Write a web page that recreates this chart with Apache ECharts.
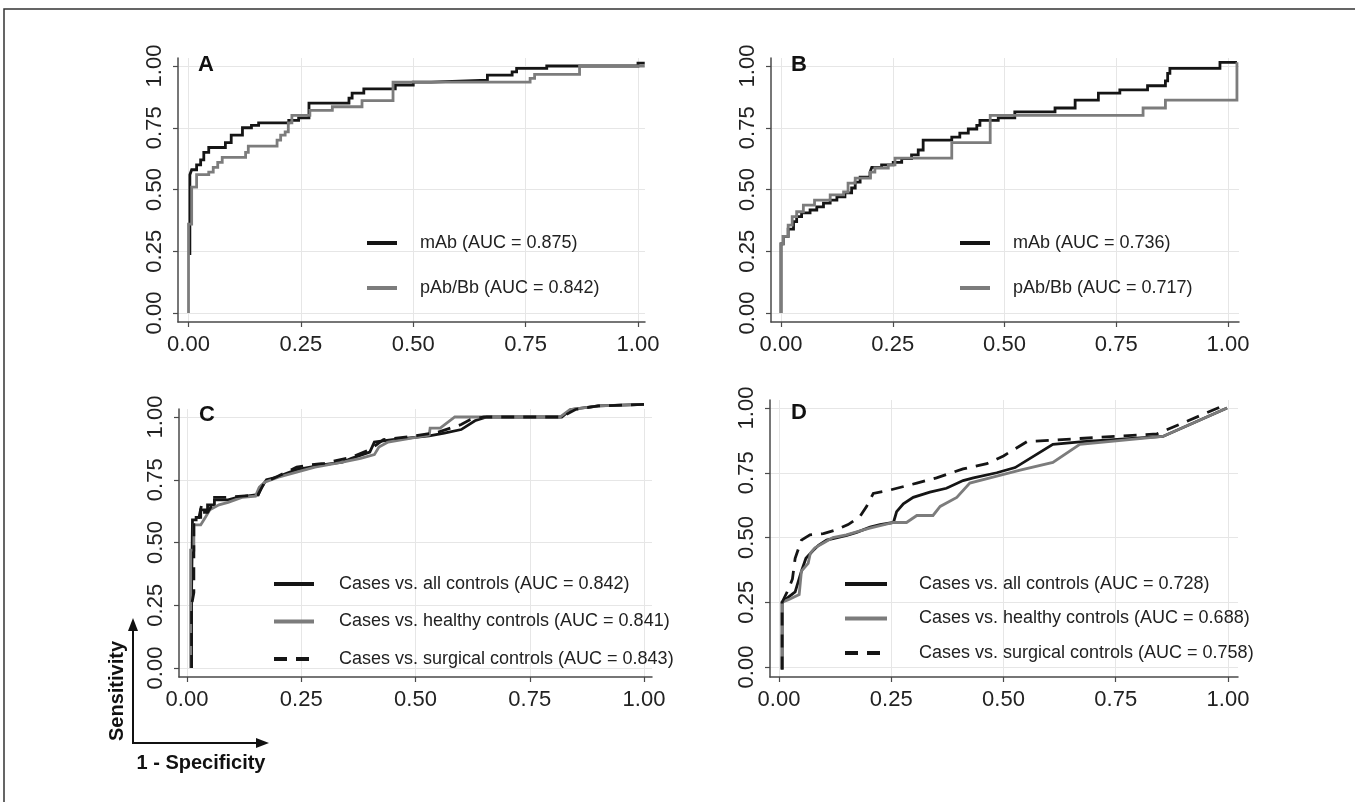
<!DOCTYPE html>
<html><head><meta charset="utf-8">
<script src="https://cdn.jsdelivr.net/npm/echarts@6/dist/echarts.min.js"></script>
<style>html,body{margin:0;padding:0;background:#fff}#c{width:1355px;height:802px}</style>
</head><body><div id="c"></div>
<script>
// ---------- data ----------
const tickValues = [0, 0.25, 0.5, 0.75, 1];
const tickLabels = ['0.00', '0.25', '0.50', '0.75', '1.00'];
const panelLetters = ['A', 'B', 'C', 'D'];

const namesA = ['mAb (AUC = 0.875)', 'pAb/Bb (AUC = 0.842)'];
const namesB = ['mAb (AUC = 0.736)', 'pAb/Bb (AUC = 0.717)'];
const namesC = ['Cases vs. all controls (AUC = 0.842)', 'Cases vs. healthy controls (AUC = 0.841)', 'Cases vs. surgical controls (AUC = 0.843)'];
const namesD = ['Cases vs. all controls (AUC = 0.728)', 'Cases vs. healthy controls (AUC = 0.688)', 'Cases vs. surgical controls (AUC = 0.758)'];

// Panel A (1-specificity, sensitivity)
const A_mAb = [[0.003,0.235],[0.003,0.56],[0.007,0.56],[0.007,0.58],[0.018,0.58],[0.018,0.6],[0.027,0.6],[0.027,0.62],[0.034,0.62],[0.034,0.65],[0.045,0.65],[0.045,0.67],[0.082,0.67],[0.082,0.69],[0.095,0.69],[0.095,0.72],[0.12,0.72],[0.12,0.75],[0.14,0.75],[0.14,0.76],[0.156,0.76],[0.156,0.77],[0.223,0.77],[0.223,0.78],[0.245,0.78],[0.245,0.79],[0.268,0.79],[0.268,0.85],[0.357,0.85],[0.357,0.87],[0.364,0.87],[0.364,0.89],[0.39,0.89],[0.39,0.907],[0.46,0.907],[0.46,0.923],[0.5,0.923],[0.5,0.935],[0.54,0.935],[0.54,0.943],[0.665,0.943],[0.665,0.963],[0.72,0.963],[0.72,0.976],[0.73,0.976],[0.73,0.99],[0.797,0.99],[0.797,1.0],[1.0,1.0],[1.0,1.012],[1.015,1.012]];
const A_pAb = [[0,0],[0,0.36],[0.007,0.36],[0.007,0.51],[0.018,0.51],[0.018,0.56],[0.045,0.56],[0.045,0.57],[0.055,0.57],[0.055,0.59],[0.065,0.59],[0.065,0.61],[0.075,0.61],[0.075,0.63],[0.127,0.63],[0.127,0.65],[0.133,0.65],[0.133,0.676],[0.197,0.676],[0.197,0.7],[0.205,0.7],[0.205,0.72],[0.215,0.72],[0.215,0.733],[0.222,0.733],[0.222,0.77],[0.23,0.77],[0.23,0.8],[0.27,0.8],[0.27,0.82],[0.32,0.82],[0.32,0.835],[0.386,0.835],[0.386,0.86],[0.455,0.86],[0.455,0.935],[0.76,0.935],[0.76,0.95],[0.77,0.95],[0.77,0.966],[0.87,0.966],[0.87,1.0],[1.015,1.0]];

// Panel B
const B_mAb = [[0,0],[0,0.28],[0.005,0.28],[0.005,0.31],[0.016,0.31],[0.016,0.34],[0.028,0.34],[0.028,0.37],[0.035,0.37],[0.035,0.39],[0.046,0.39],[0.046,0.405],[0.065,0.405],[0.065,0.417],[0.08,0.417],[0.08,0.43],[0.095,0.43],[0.095,0.445],[0.11,0.445],[0.11,0.457],[0.125,0.457],[0.125,0.47],[0.143,0.47],[0.143,0.486],[0.158,0.486],[0.158,0.506],[0.166,0.506],[0.166,0.53],[0.177,0.53],[0.177,0.55],[0.199,0.55],[0.199,0.57],[0.203,0.57],[0.203,0.59],[0.225,0.59],[0.225,0.6],[0.251,0.6],[0.251,0.61],[0.27,0.61],[0.27,0.625],[0.292,0.625],[0.292,0.64],[0.307,0.64],[0.307,0.66],[0.318,0.66],[0.318,0.7],[0.382,0.7],[0.382,0.712],[0.4,0.712],[0.4,0.728],[0.419,0.728],[0.419,0.745],[0.438,0.745],[0.438,0.76],[0.445,0.76],[0.445,0.78],[0.486,0.78],[0.486,0.79],[0.523,0.79],[0.523,0.814],[0.613,0.814],[0.613,0.83],[0.658,0.83],[0.658,0.862],[0.71,0.862],[0.71,0.89],[0.758,0.89],[0.758,0.903],[0.82,0.903],[0.82,0.92],[0.86,0.92],[0.86,0.94],[0.865,0.94],[0.865,0.97],[0.87,0.97],[0.87,0.99],[0.982,0.99],[0.982,1.015],[1.02,1.015]];
const B_pAb = [[0,0],[0,0.28],[0.005,0.28],[0.005,0.31],[0.016,0.31],[0.016,0.356],[0.025,0.356],[0.025,0.39],[0.035,0.39],[0.035,0.41],[0.05,0.41],[0.05,0.437],[0.075,0.437],[0.075,0.457],[0.11,0.457],[0.11,0.478],[0.14,0.478],[0.14,0.49],[0.15,0.49],[0.15,0.526],[0.166,0.526],[0.166,0.546],[0.2,0.546],[0.2,0.57],[0.21,0.57],[0.21,0.587],[0.24,0.587],[0.24,0.6],[0.255,0.6],[0.255,0.627],[0.382,0.627],[0.382,0.69],[0.468,0.69],[0.468,0.8],[0.81,0.8],[0.81,0.83],[0.86,0.83],[0.86,0.862],[1.02,0.862],[1.02,1.015]];

// Panel C
const C_all = [[0.01,0],[0.01,0.3],[0.012,0.3],[0.012,0.59],[0.02,0.59],[0.02,0.6],[0.03,0.6],[0.03,0.63],[0.045,0.63],[0.045,0.65],[0.06,0.65],[0.06,0.67],[0.09,0.67],[0.11,0.68],[0.15,0.69],[0.156,0.69],[0.163,0.72],[0.174,0.75],[0.196,0.76],[0.218,0.776],[0.24,0.79],[0.3,0.81],[0.34,0.82],[0.36,0.835],[0.4,0.86],[0.41,0.9],[0.45,0.91],[0.53,0.925],[0.563,0.936],[0.6,0.95],[0.63,0.985],[0.656,1.0],[0.82,1.0],[0.84,1.03],[0.9,1.044],[1.0,1.05]];
const C_healthy = [[0.008,0],[0.008,0.47],[0.015,0.47],[0.015,0.57],[0.03,0.57],[0.04,0.6],[0.05,0.63],[0.07,0.65],[0.09,0.66],[0.12,0.68],[0.15,0.685],[0.158,0.72],[0.17,0.74],[0.2,0.76],[0.24,0.78],[0.28,0.8],[0.34,0.82],[0.38,0.835],[0.41,0.85],[0.42,0.88],[0.44,0.9],[0.53,0.928],[0.532,0.956],[0.554,0.956],[0.586,1.0],[0.816,1.0],[0.838,1.03],[0.904,1.044],[1.0,1.05]];
const C_surgical = [[0.01,0],[0.01,0.25],[0.015,0.3],[0.015,0.59],[0.025,0.59],[0.032,0.65],[0.035,0.62],[0.045,0.62],[0.052,0.64],[0.054,0.68],[0.09,0.68],[0.12,0.685],[0.155,0.69],[0.17,0.74],[0.2,0.765],[0.24,0.8],[0.27,0.81],[0.3,0.815],[0.36,0.84],[0.4,0.87],[0.43,0.91],[0.5,0.925],[0.55,0.94],[0.6,0.97],[0.62,0.99],[0.65,1.0],[0.82,1.0],[0.85,1.03],[0.9,1.044],[1.0,1.05]];

// Panel D
const D_all = [[0.007,-0.01],[0.007,0.25],[0.021,0.27],[0.036,0.29],[0.05,0.37],[0.06,0.42],[0.076,0.45],[0.088,0.47],[0.106,0.49],[0.151,0.508],[0.173,0.52],[0.203,0.54],[0.225,0.55],[0.255,0.558],[0.262,0.6],[0.277,0.63],[0.299,0.655],[0.336,0.675],[0.373,0.69],[0.41,0.72],[0.433,0.73],[0.485,0.75],[0.526,0.77],[0.61,0.86],[0.677,0.87],[0.855,0.89],[0.998,1.0]];
const D_healthy = [[0.007,-0.01],[0.007,0.25],[0.021,0.26],[0.045,0.28],[0.05,0.37],[0.065,0.4],[0.07,0.44],[0.08,0.46],[0.1,0.48],[0.12,0.5],[0.15,0.51],[0.2,0.535],[0.255,0.558],[0.284,0.558],[0.307,0.585],[0.343,0.585],[0.359,0.62],[0.396,0.655],[0.425,0.71],[0.47,0.73],[0.537,0.76],[0.61,0.79],[0.67,0.86],[0.855,0.89],[0.998,1.0]];
const D_surgical = [[0.007,-0.01],[0.007,0.25],[0.021,0.3],[0.03,0.34],[0.036,0.42],[0.05,0.49],[0.069,0.51],[0.099,0.515],[0.128,0.53],[0.154,0.55],[0.18,0.58],[0.195,0.62],[0.21,0.67],[0.24,0.68],[0.307,0.71],[0.351,0.73],[0.41,0.765],[0.463,0.785],[0.5,0.815],[0.552,0.87],[0.842,0.9],[0.998,1.015]];

// ---------- layout ----------
const FONT = 'Liberation Sans, Arial, Helvetica, sans-serif';
const BLACK = '#151515', GRAY = '#7c7c7c', AXIS = '#4a4a4a';

const grids = [
  {left: 178, top: 58, width: 467, height: 264},
  {left: 771, top: 58, width: 468, height: 264},
  {left: 179, top: 409, width: 473, height: 268},
  {left: 770, top: 400, width: 468, height: 277}
];
const xr = [[-0.0234, 1.0156], [-0.0224, 1.0246], [-0.0175, 1.0175], [-0.02, 1.0223]];
const yr = [[-0.0364, 1.0324], [-0.0364, 1.0324], [-0.0359, 1.0319], [-0.0386, 1.0309]];

function fmt(v) { const i = tickValues.indexOf(v); return i >= 0 ? tickLabels[i] : v.toFixed(2); }

function axis(i, isY) {
  const r = isY ? yr[i] : xr[i];
  return {
    type: 'value', gridIndex: i, min: r[0], max: r[1],
    axisLine: {show: true, onZero: false, lineStyle: {color: AXIS, width: 1.5}},
    axisTick: {show: true, length: 5, customValues: tickValues, lineStyle: {color: AXIS, width: 1.2}},
    axisLabel: {show: true, customValues: tickValues, formatter: fmt, rotate: isY ? 90 : 0, margin: 12,
      fontSize: 22, fontFamily: FONT, color: '#222'},
    splitLine: {show: true, lineStyle: {color: '#e6e6e6', width: 1}}
  };
}

function ser(name, data, i, color, dashed) {
  return {type: 'line', name, data, xAxisIndex: i, yAxisIndex: i, symbol: 'none', clip: false,
    lineStyle: {color, width: 2.8, type: dashed ? [13, 9] : 'solid', cap: 'butt', join: 'miter'},
    itemStyle: {color}, emphasis: {disabled: true}, silent: true};
}

function legend(names, left, top, iw, gap, pad) {
  return {data: names, orient: 'vertical', left, top, padding: 0, itemWidth: iw, itemHeight: 22, itemGap: gap,
    selectedMode: false,
    lineStyle: {width: 4},
    itemStyle: {color: 'rgba(0,0,0,0)', opacity: 0, borderWidth: 0},
    textStyle: {fontSize: 18, fontFamily: FONT, color: '#222', lineHeight: 22, padding: [0, 0, 0, pad]}};
}

const option = {
  animation: false,
  backgroundColor: '#fff',
  grid: grids,
  xAxis: [0, 1, 2, 3].map(i => axis(i, false)),
  yAxis: [0, 1, 2, 3].map(i => axis(i, true)),
  title: [
    {text: panelLetters[0], left: 198, top: 54},
    {text: panelLetters[1], left: 791, top: 54},
    {text: panelLetters[2], left: 199, top: 404},
    {text: panelLetters[3], left: 791, top: 402}
  ].map(t => Object.assign(t, {padding: 0, textStyle: {fontSize: 22, fontWeight: 'bold', fontFamily: FONT, color: '#111'}})),
  legend: [
    legend(namesA, 365, 232, 30, 23, 18),
    legend(namesB, 958, 232, 30, 23, 18),
    legend(namesC, 272, 573, 40, 15.5, 20),
    legend(namesD, 843, 573, 42, 12.5, 27)
  ],
  series: [
    ser(namesA[0], A_mAb, 0, BLACK), ser(namesA[1], A_pAb, 0, GRAY),
    ser(namesB[0], B_mAb, 1, BLACK), ser(namesB[1], B_pAb, 1, GRAY),
    ser(namesC[0], C_all, 2, BLACK), ser(namesC[1], C_healthy, 2, GRAY), ser(namesC[2], C_surgical, 2, BLACK, true),
    ser(namesD[0], D_all, 3, BLACK), ser(namesD[1], D_healthy, 3, GRAY), ser(namesD[2], D_surgical, 3, BLACK, true)
  ],
  graphic: [
    {type: 'polyline', shape: {points: [[4, 810], [4, 9], [1360, 9]]}, style: {fill: 'none', stroke: '#333', lineWidth: 1.5}, silent: true},
    {type: 'line', shape: {x1: 133, y1: 743, x2: 133, y2: 626}, style: {stroke: '#111', lineWidth: 2}},
    {type: 'polygon', shape: {points: [[133, 618], [128, 631], [138, 631]]}, style: {fill: '#111'}},
    {type: 'line', shape: {x1: 132, y1: 743, x2: 261, y2: 743}, style: {stroke: '#111', lineWidth: 2}},
    {type: 'polygon', shape: {points: [[269, 743], [256, 738], [256, 748]]}, style: {fill: '#111'}},
    {type: 'text', x: 117, y: 691, rotation: Math.PI / 2,
      style: {text: 'Sensitivity', font: 'bold 20px ' + FONT, fill: '#111', align: 'center', verticalAlign: 'middle'}},
    {type: 'text', x: 201, y: 763,
      style: {text: '1 - Specificity', font: 'bold 20px ' + FONT, fill: '#111', align: 'center', verticalAlign: 'middle'}}
  ]
};

const chart = echarts.init(document.getElementById('c'), null, {renderer: 'canvas'});
chart.setOption(option);
</script>
</body></html>
